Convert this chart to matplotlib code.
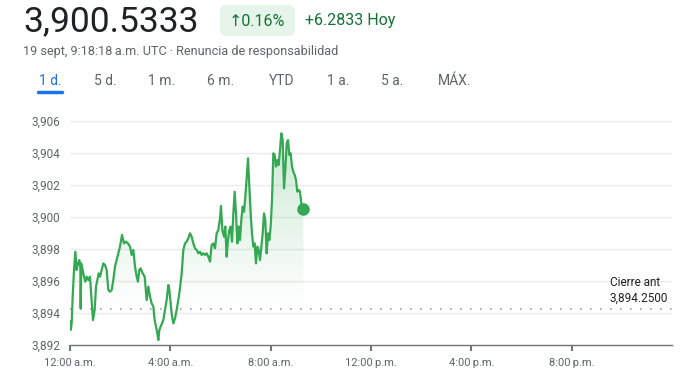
import matplotlib.pyplot as plt
import numpy as np
from matplotlib.patches import FancyBboxPatch, Polygon

plt.rcParams['font.family'] = ['Roboto', 'DejaVu Sans']

# minutes after midnight (UTC) and price
minutes = [0, 1.6, 4, 6.4, 9.6, 12.8, 15.9, 19.1, 22.3, 24.7, 25.5, 27.1, 30.3, 33.5, 36.7,
           39.9, 43.9, 47.8, 51.8, 55.0, 59.0, 62.2, 65.4, 68.6, 71.8, 75.7, 79.7, 83.7,
           87.7, 91.7, 95.7, 99.7, 103.6, 107.6, 111.6, 115.6, 119.6, 124.4, 129.2, 133.9,
           138.7, 143.5, 147.5, 151.5, 155.5, 159.5, 162.6, 165.8, 169.0, 173.8, 178.6,
           183.4, 187.4, 191.4, 195.3, 199.3, 202.5, 205.7, 208.9, 211.3, 213.7, 216.9,
           220.1, 223.2, 227.2, 231.2, 235.2, 237.6, 240.8, 244.0, 247.2, 251.2, 255.1,
           259.1, 263.1, 267.1, 271.1, 275.1, 279.0, 283.0, 287.0, 291.0, 295.0, 299.0,
           303.0, 307.0, 310.9, 314.9, 318.9, 322.9, 326.9, 330.9, 334.9, 338.8, 342.8,
           346.8, 350.8, 354.8, 358.8, 361.2, 364.4, 368.4, 371.5, 374.7, 377.9, 381.1,
           384.3, 387.5, 390.7, 393.9, 397.1, 400.3, 403.5, 406.6, 409.8, 413.0, 416.2,
           419.4, 422.6, 425.8, 429.0, 432.1, 435.3, 438.5, 441.7, 444.9, 448.1, 451.3,
           454.5, 457.7, 460.9, 464.1, 467.2, 470.4, 473.6, 476.8, 480.0, 483.2, 486.4,
           489.6, 492.8, 495.9, 499.1, 502.3, 505.5, 508.7, 511.9, 515.1, 518.3, 521.5,
           524.7, 527.8, 531.0, 534.2, 537.4, 540.6, 543.8, 547.0, 550.2, 553.4, 558.3]
prices = [3893.46, 3892.94, 3893.35, 3895.02, 3896.69, 3897.83, 3896.69, 3897.10, 3897.31,
          3896.90, 3894.29, 3897.10, 3896.69, 3896.27, 3895.96, 3896.27, 3896.06, 3896.27,
          3894.81, 3893.56, 3894.19, 3895.65, 3896.06, 3896.48, 3896.27, 3896.69, 3897.10,
          3897.00, 3896.69, 3895.44, 3895.33, 3895.44, 3896.06, 3896.90, 3897.31, 3897.73,
          3898.15, 3898.88, 3898.35, 3898.46, 3898.35, 3898.15, 3897.63, 3897.94, 3896.90,
          3896.27, 3895.96, 3896.69, 3896.79, 3896.48, 3896.27, 3894.81, 3895.65, 3895.02,
          3894.60, 3894.40, 3893.56, 3893.15, 3892.73, 3892.31, 3892.94, 3893.15, 3893.35,
          3893.56, 3894.19, 3894.81, 3895.75, 3895.44, 3894.60, 3893.77, 3893.35, 3893.67,
          3894.19, 3894.81, 3895.54, 3896.48, 3897.94, 3898.35, 3898.46, 3898.67, 3898.98,
          3898.77, 3898.35, 3898.04, 3897.94, 3897.73, 3897.83, 3897.63, 3897.73, 3897.63,
          3897.73, 3897.52, 3897.21, 3898.25, 3898.35, 3898.04, 3898.98, 3899.19, 3899.92,
          3900.69, 3899.19, 3898.77, 3899.40, 3897.52, 3898.56, 3899.19, 3899.40, 3898.46,
          3900.23, 3901.58, 3900.23, 3898.35, 3899.40, 3898.56, 3899.81, 3900.65, 3900.33,
          3901.27, 3902.52, 3903.67, 3901.90, 3900.23, 3898.98, 3898.15, 3898.35, 3897.10,
          3898.15, 3897.94, 3897.31, 3898.15, 3898.98, 3900.23, 3899.81, 3897.73, 3898.98,
          3898.56, 3899.40, 3901.06, 3903.98, 3903.88, 3903.15, 3903.56, 3903.25, 3904.19,
          3905.23, 3904.81, 3901.79, 3902.94, 3904.60, 3904.81, 3903.88, 3903.98, 3903.15,
          3902.83, 3902.63, 3902.31, 3901.58, 3901.69, 3901.58, 3900.85, 3900.53]

prev_close = 3894.25
y_ticks = [3892, 3894, 3896, 3898, 3900, 3902, 3904, 3906]
x_ticks = [0, 240, 480, 720, 960, 1200]
x_labels = ['12:00\u202fa.m.', '4:00\u202fa.m.', '8:00\u202fa.m.',
            '12:00\u202fp.m.', '4:00\u202fp.m.', '8:00\u202fp.m.']
tabs = ['1 d.', '5 d.', '1 m.', '6 m.', 'YTD', '1 a.', '5 a.', 'MÁX.']
tab_x = [50, 105, 162, 221, 282, 338, 392, 455]

W, H = 693, 385
green = '#34a853'
gray = '#5f6368'

fig = plt.figure(figsize=(W / 100, H / 100), dpi=100)
fx = lambda px: px / W
fy = lambda py: 1 - py / H

ax = fig.add_axes([fx(70), fy(345), fx(672) - fx(70), fy(113) - fy(345)])
ax.set_xlim(0, 1440)
ax.set_ylim(3892, 3906.5)

for yv in y_ticks[1:]:
    ax.axhline(yv, color='#ebebeb', lw=1, zorder=0)
ax.axhline(prev_close, color='#9aa0a6', lw=1.2, ls=(0, (1, 5)), zorder=1)

# gradient fill under line
verts = list(zip(minutes, prices)) + [(minutes[-1], 3892), (minutes[0], 3892)]
poly = Polygon(verts, closed=True, facecolor='none', edgecolor='none')
ax.add_patch(poly)
grad = np.zeros((100, 2, 4))
grad[..., 0] = 0x34 / 255
grad[..., 1] = 0xa8 / 255
grad[..., 2] = 0x53 / 255
alpha = np.clip(np.linspace(-0.02, 0.26, 100), 0, None)
grad[..., 3] = alpha[:, None]
img = ax.imshow(grad, extent=[0, 1440, 3893.5, 3905.5], origin='lower',
                aspect='auto', zorder=1, interpolation='bilinear')
img.set_clip_path(poly)

ax.plot(minutes, prices, color=green, lw=1.6, zorder=3)
ax.plot(minutes[-1], prices[-1], 'o', color=green, ms=8, zorder=4)

ax.set_yticks(y_ticks)
ax.set_yticklabels([f'{v:,}' for v in y_ticks])
ax.set_xticks(x_ticks)
ax.set_xticklabels(x_labels)
ax.tick_params(axis='y', length=0, pad=7, labelsize=8.5, labelcolor=gray)
ax.tick_params(axis='x', length=4, width=1.5, color='#70757a', pad=5,
               labelsize=8, labelcolor=gray)
for s in ['top', 'right', 'left']:
    ax.spines[s].set_visible(False)
ax.spines['bottom'].set_color('#70757a')
ax.spines['bottom'].set_linewidth(1)

fig.text(fx(610), fy(283), 'Cierre ant', fontsize=8.5, color='#202124', va='center')
fig.text(fx(610), fy(298), '3,894.2500', fontsize=8.5, color='#202124', va='center')

# header
fig.text(fx(23), fy(22), '3,900.5333', fontsize=25.5, color='#202124', va='center')
badge = FancyBboxPatch((fx(220), fy(36)), fx(295) - fx(220), fy(5) - fy(36),
                       boxstyle='round,pad=0,rounding_size=0.01',
                       transform=fig.transFigure, facecolor='#e6f4ea',
                       edgecolor='none', mutation_aspect=W / H)
fig.patches.append(badge)
fig.text(fx(257), fy(21), '\u21910.16%', fontsize=11.5, color='#137333',
         va='center', ha='center')
fig.text(fx(305), fy(21), '+6.2833 Hoy', fontsize=11.5, color='#137333', va='center')
fig.text(fx(23), fy(52), '19 sept, 9:18:18\u202fa.m. UTC · Renuncia de responsabilidad',
         fontsize=9.1, color=gray, va='center')

for i, (t, x) in enumerate(zip(tabs, tab_x)):
    c = '#1a73e8' if i == 0 else gray
    fig.text(fx(x), fy(81), t, fontsize=10, color=c, ha='center', va='center')
fig.add_artist(plt.Line2D([fx(38), fx(62)], [fy(92), fy(92)], color='#1a73e8', lw=2.5,
                          solid_capstyle='round'))

fig.savefig('out.png', dpi=100)
